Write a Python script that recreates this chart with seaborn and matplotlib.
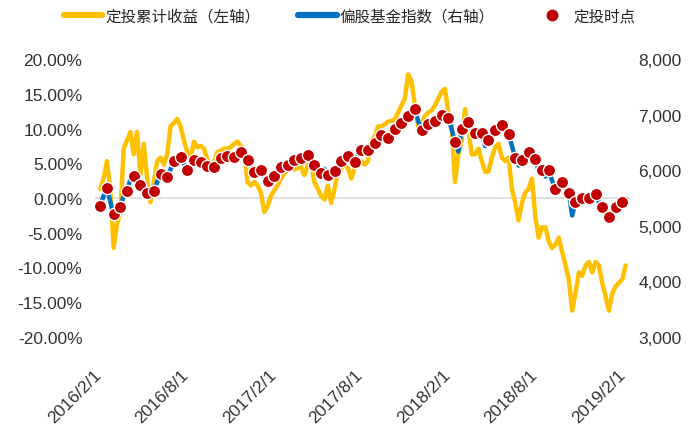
import pandas as pd
import seaborn as sns
import matplotlib.pyplot as plt
from matplotlib.lines import Line2D
from matplotlib.ticker import FuncFormatter

# weekly samples starting here; every other week is a 定投 point
start_date = "2016-02-04"

# 定投累计收益 (%), left axis
cum_return = [
    1.3, 2.8, 5.3, 1.3, -7.2, -3.7, -2.2, 7.1, 8.3, 9.5,
    6.3, 9.5, 3.3, 7.8, 2.8, -0.6, 2.3, 5.3, 5.8, 4.8,
    6.3, 10.3, 10.8, 11.4, 10.3, 8.3, 6.6, 5.8, 8.1, 7.3,
    7.5, 7.1, 5.5, 4.8, 5.1, 6.6, 6.8, 7.1, 7.1, 7.3,
    7.8, 8.1, 7.5, 7.1, 2.3, 1.8, 2.3, 1.8, 0.8, -2.0,
    -1.2, 0.3, 1.1, 1.8, 2.8, 3.5, 4.0, 4.3, 4.1, 4.3,
    4.5, 3.3, 4.8, 4.8, 2.3, 1.3, 0.3, -0.2, 1.8, -0.7,
    1.3, 3.8, 4.3, 4.8, 4.3, 2.8, 4.3, 4.8, 5.3, 4.8,
    5.3, 8.3, 8.8, 10.3, 10.3, 10.6, 11.0, 11.1, 11.3, 12.3,
    13.3, 14.3, 17.8, 16.8, 13.3, 10.3, 10.6, 11.8, 12.3, 12.6,
    13.3, 14.3, 15.3, 15.7, 12.3, 10.3, 2.3, 6.3, 8.3, 12.8,
    9.8, 6.3, 6.3, 7.1, 5.3, 3.8, 3.8, 5.8, 7.3, 7.8,
    5.8, 5.3, 5.8, 1.3, -0.7, -3.2, -0.7, 0.8, 1.3, 2.8,
    -2.7, -5.7, -4.2, -4.2, -6.2, -7.2, -6.7, -5.7, -7.7, -9.7,
    -11.7, -16.2, -13.7, -10.7, -11.2, -9.7, -9.2, -10.7, -9.2, -9.7,
    -12.2, -14.2, -16.2, -13.7, -12.7, -12.2, -11.7, -9.7,
]

# 偏股基金指数, right axis
fund_index = [
    5360, 5535, 5675, 5435, 5210, 5265, 5345, 5535, 5630, 5835,
    5890, 5785, 5740, 5655, 5590, 5595, 5625, 5785, 5935, 5895,
    5875, 6015, 6170, 6205, 6235, 6115, 6005, 6095, 6190, 6175,
    6155, 6105, 6070, 6055, 6065, 6145, 6220, 6235, 6255, 6245,
    6245, 6295, 6335, 6265, 6185, 6075, 5975, 5985, 6005, 5895,
    5810, 5855, 5900, 5975, 6055, 6065, 6085, 6135, 6185, 6205,
    6220, 6235, 6265, 6175, 6085, 6015, 5950, 6025, 5920, 5945,
    5980, 6075, 6160, 6205, 6255, 6205, 6155, 6265, 6370, 6365,
    6365, 6425, 6485, 6565, 6635, 6605, 6575, 6655, 6745, 6795,
    6850, 6905, 6975, 7035, 7105, 6885, 6715, 6765, 6825, 6855,
    6890, 6945, 7000, 6965, 6940, 6735, 6515, 6335, 6745, 6835,
    6875, 6735, 6675, 6695, 6675, 6435, 6550, 6635, 6715, 6775,
    6805, 6735, 6655, 6435, 6220, 6085, 6175, 6255, 6325, 6375,
    6205, 5985, 6005, 5885, 6005, 5815, 5660, 5735, 5795, 5685,
    5590, 5185, 5420, 5465, 5495, 5535, 5500, 5435, 5570, 5415,
    5330, 5235, 5150, 5215, 5330, 5375, 5420, 5485,
]

tick_dates = ["2016-02-01", "2016-08-01", "2017-02-01", "2017-08-01",
              "2018-02-01", "2018-08-01", "2019-02-01"]
tick_labels = ["2016/2/1", "2016/8/1", "2017/2/1", "2017/8/1",
               "2018/2/1", "2018/8/1", "2019/2/1"]

weeks = pd.date_range(start_date, periods=len(fund_index), freq="7D")
df = pd.DataFrame({"date": weeks, "ret": cum_return, "idx": fund_index})
dots = df.iloc[::2]

sns.set_theme(style="white")
plt.rcParams["font.family"] = ["Liberation Sans", "Noto Sans CJK SC"]

yellow = "#FFC000"
blue = "#0070C0"
red = "#C00000"

fig = plt.figure(figsize=(7, 4.31), dpi=100)
ax = fig.add_axes([95 / 700, 93 / 431, 535 / 700, 278 / 431])
ax.axhline(0, color="#D9D9D9", lw=1.2, zorder=0)
sns.lineplot(data=df, x="date", y="ret", ax=ax, color=yellow, linewidth=3.2)

ax2 = ax.twinx()
sns.lineplot(data=df, x="date", y="idx", ax=ax2, color=blue, linewidth=3.2)
sns.scatterplot(data=dots, x="date", y="idx", ax=ax2, color=red, s=78,
                edgecolor="white", linewidth=1.0, zorder=3)

ax.set_ylim(-20, 20)
ax.set_yticks(range(-20, 21, 5))
ax.yaxis.set_major_formatter(FuncFormatter(lambda v, p: f"{v:.2f}%"))
ax2.set_ylim(3000, 8000)
ax2.set_yticks(range(3000, 8001, 1000))
ax2.yaxis.set_major_formatter(FuncFormatter(lambda v, p: f"{v:,.0f}"))

ax.set_xlim(pd.Timestamp("2016-01-24"), pd.Timestamp("2019-02-16"))
ax.set_xticks(pd.to_datetime(tick_dates))
ax.set_xticklabels(tick_labels, rotation=45, ha="right", va="center",
                   rotation_mode="anchor")

for a in (ax, ax2):
    a.set_xlabel("")
    a.set_ylabel("")
    for s in a.spines.values():
        s.set_visible(False)
    a.tick_params(length=0, labelsize=12.5, colors="#333333")
ax.tick_params(axis="y", pad=9)
ax.tick_params(axis="x", pad=25)
ax2.tick_params(axis="y", pad=6)

handles = [
    Line2D([], [], color=yellow, lw=4.5),
    Line2D([], [], color=blue, lw=4.5),
    Line2D([], [], color=red, marker="o", ls="none", markersize=7.5),
]
labels = ["定投累计收益（左轴）", "偏股基金指数（右轴）", "定投时点"]
fig.legend(handles, labels, loc="upper center", bbox_to_anchor=(0.5, 1.01),
           ncol=3, frameon=False, fontsize=11.2, handlelength=2.45,
           handletextpad=0.2, columnspacing=2.45)

fig.savefig("out.png", dpi=100)
